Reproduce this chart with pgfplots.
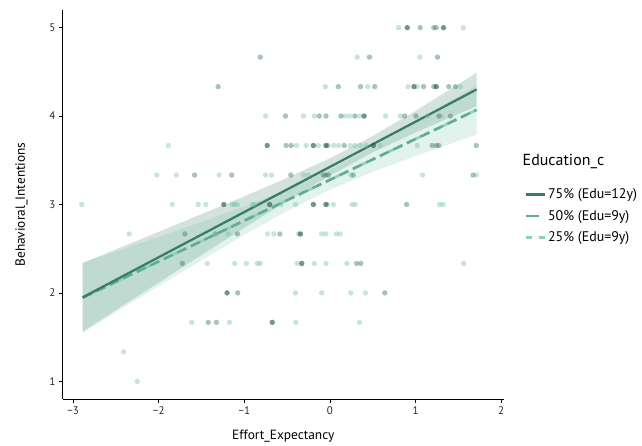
\documentclass[border=0pt]{standalone}
\usepackage{fontspec}
\setmainfont{PT Sans}
\usepackage{pgfplots}
\pgfplotsset{compat=1.18}
\usepgfplotslibrary{fillbetween}
\definecolor{c75}{HTML}{3A7D66}
\definecolor{c50}{HTML}{5FAE90}
\definecolor{c25}{HTML}{8ED3B6}
\definecolor{band75}{HTML}{3A7D66}
\definecolor{band50}{HTML}{6FC0A0}
\definecolor{ptL}{HTML}{6FC0A0}
\definecolor{ptM}{HTML}{3F7A68}
\definecolor{ptD}{HTML}{2A5A4B}
\begin{document}
\begin{tikzpicture}
\begin{axis}[name=ax, scale only axis, width=442pt, height=390pt,
 xmin=-3.12, xmax=2.03, ymin=0.8, ymax=5.2,
 axis x line*=bottom, axis y line*=left,
 axis line style={-, line width=0.9pt, black},
 xtick={-3,-2,-1,0,1,2}, xticklabels={−3,−2,−1,0,1,2}, ytick={1,2,3,4,5},
 tick align=outside, major tick length=4pt, tick style={black, line width=0.8pt},
 ticklabel style={font=\fontsize{11}{12}\selectfont, text=black!85},
 /pgf/number format/assume math mode=true,
 xlabel={Effort\_Expectancy}, ylabel={Behavioral\_Intentions},
 label style={font=\fontsize{13.4}{15}\selectfont},
 xlabel style={at={(axis description cs:0.5,-0.095)}, anchor=center},
 ylabel style={at={(axis description cs:-0.094,0.5)}, anchor=center},
 legend style={draw=none, fill=none, at={(1.04,0.551)}, anchor=north west,
   font=\fontsize{14}{15}\selectfont, row sep=6pt},
 legend cell align=left,
 legend image code/.code={\draw[#1] (0pt,0pt) -- (19pt,0pt);},
 clip=false,
]
% points
\addplot[only marks, mark=*, mark size=2.7pt, ptL, draw opacity=0, fill opacity=0.4, forget plot] table {
0.802 5
1.558 5
0.318 4.667
1.050 4.667
-0.054 4.333
0.442 4.333
0.911 4.333
1.019 4.333
1.523 4.333
-0.752 4
-0.310 4
-0.182 4
0.174 4
0.229 4
0.349 4
0.651 4
0.822 4
1.136 4
1.299 4
-1.888 3.667
-0.391 3.667
-0.279 3.667
-0.136 3.667
0.043 3.667
0.101 3.667
0.236 3.667
0.291 3.667
0.353 3.667
0.419 3.667
0.585 3.667
1.019 3.667
-2.023 3.333
-1.795 3.333
-1.295 3.333
-0.752 3.333
-0.682 3.333
-0.310 3.333
-0.252 3.333
0.244 3.333
1.081 3.333
1.709 3.333
-2.899 3
-1.841 3
-1.539 3
-1.450 3
-1.143 3
-1.113 3
-1.081 3
-0.907 3
-0.880 3
-0.570 3
-0.403 3
-0.027 3
0.039 3
0.259 3
0.295 3
1.279 3
1.322 3
-2.345 2.667
-1.190 2.667
-0.729 2.667
-0.655 2.667
-0.368 2.667
-0.097 2.667
-0.047 2.667
0.074 2.667
0.120 2.667
-1.434 2.333
-1.113 2.333
-0.977 2.333
-0.849 2.333
-0.814 2.333
-0.384 2.333
-0.182 2.333
-0.047 2.333
0.198 2.333
1.562 2.333
-0.403 2
-0.097 2
0.244 2
0.415 2
-1.616 1.667
-1.174 1.667
-0.399 1.667
0.345 1.667
-2.411 1.333
-2.252 1
};
\addplot[only marks, mark=*, mark size=2.7pt, ptM, draw opacity=0, fill opacity=0.45, forget plot] table {
1.054 5
1.213 5
1.241 5
-0.814 4.667
0.461 4.667
1.256 4.667
-1.306 4.333
0.097 4.333
0.357 4.333
0.523 4.333
1.093 4.333
1.213 4.333
1.388 4.333
1.465 4.333
-0.519 4
-0.124 4
-0.047 4
0.128 4
0.291 4
0.872 4
1.004 4
1.271 4
1.407 4
-0.512 3.667
-0.453 3.667
-0.027 3.667
0.167 3.667
1.194 3.667
1.241 3.667
1.271 3.667
1.709 3.667
-1.581 3.333
-1.147 3.333
-0.457 3.333
-0.078 3.333
-0.047 3.333
-0.016 3.333
0.271 3.333
1.671 3.333
0.895 3
-1.694 2.667
-1.337 2.667
-1.081 2.667
-0.585 2.667
-1.725 2.333
0.310 2.333
0.360 2.333
-1.077 2
0.640 2
-1.422 1.667
-1.326 1.667
};
\addplot[only marks, mark=*, mark size=2.7pt, ptD, draw opacity=0, fill opacity=0.65, forget plot] table {
0.903 5
1.326 5
0.981 4.333
1.241 4.333
0.399 4
-0.733 3.667
-0.194 3.667
-0.047 3.667
0.508 3.667
-1.240 3
-0.705 3
-0.194 3
-0.047 3
-0.345 2.667
-0.329 2.333
-1.202 2
-0.674 1.667
};
% confidence bands
\addplot[name path=u75, draw=none, forget plot] coordinates {
(-2.888,2.338) (-2.5,2.492) (-2,2.691) (-1.5,2.891) (-1,3.093) (-0.5,3.301) (0,3.523) (0.5,3.775) (1,4.059) (1.5,4.361) (1.713,4.491)};
\addplot[name path=l75, draw=none, forget plot] coordinates {
(-2.888,1.562) (-2.5,1.806) (-2,2.117) (-1.5,2.429) (-1,2.737) (-0.5,3.040) (0,3.329) (0.5,3.588) (1,3.815) (1.5,4.025) (1.713,4.111)};
\addplot[band75, fill opacity=0.22, draw=none, forget plot] fill between[of=u75 and l75];
\addplot[name path=u50, draw=none, forget plot] coordinates {
(-2.888,2.341) (-2.5,2.469) (-2,2.635) (-1.5,2.803) (-1,2.978) (-0.5,3.168) (0,3.391) (0.5,3.652) (1,3.934) (1.5,4.225) (1.713,4.350)};
\addplot[name path=l50, draw=none, forget plot] coordinates {
(-2.888,1.551) (-2.5,1.781) (-2,2.077) (-1.5,2.369) (-1,2.656) (-0.5,2.928) (0,3.167) (0.5,3.368) (1,3.548) (1.5,3.719) (1.713,3.790)};
\addplot[band50, fill opacity=0.2, draw=none, forget plot] fill between[of=u50 and l50];
% regression lines
\addplot[c25, line width=2.6pt, dash pattern=on 5pt off 5pt, forget plot] coordinates {(-2.888,1.946) (1.713,4.070)};
\addplot[c50, line width=2.6pt, dash pattern=on 10pt off 5pt, forget plot] coordinates {(-2.888,1.946) (1.713,4.070)};
\addplot[c75, line width=2.3pt, forget plot] coordinates {(-2.888,1.950) (1.713,4.301)};
% legend
\addlegendimage{c75, line width=2.4pt}
\addlegendentry{75\% (Edu=12y)}
\addlegendimage{c50, line width=2.6pt, dash pattern=on 13pt off 20pt}
\addlegendentry{50\% (Edu=9y)}
\addlegendimage{c25, line width=2.6pt, dash pattern=on 6pt off 7pt}
\addlegendentry{25\% (Edu=9y)}
\node[anchor=west, font=\fontsize{16}{17}\selectfont] at (axis description cs:1.035,0.61) {Education\_c};
\end{axis}
\path ([xshift=-63pt,yshift=-46pt]ax.south west) rectangle ([xshift=137pt,yshift=10pt]ax.north east);
\end{tikzpicture}
\end{document}
